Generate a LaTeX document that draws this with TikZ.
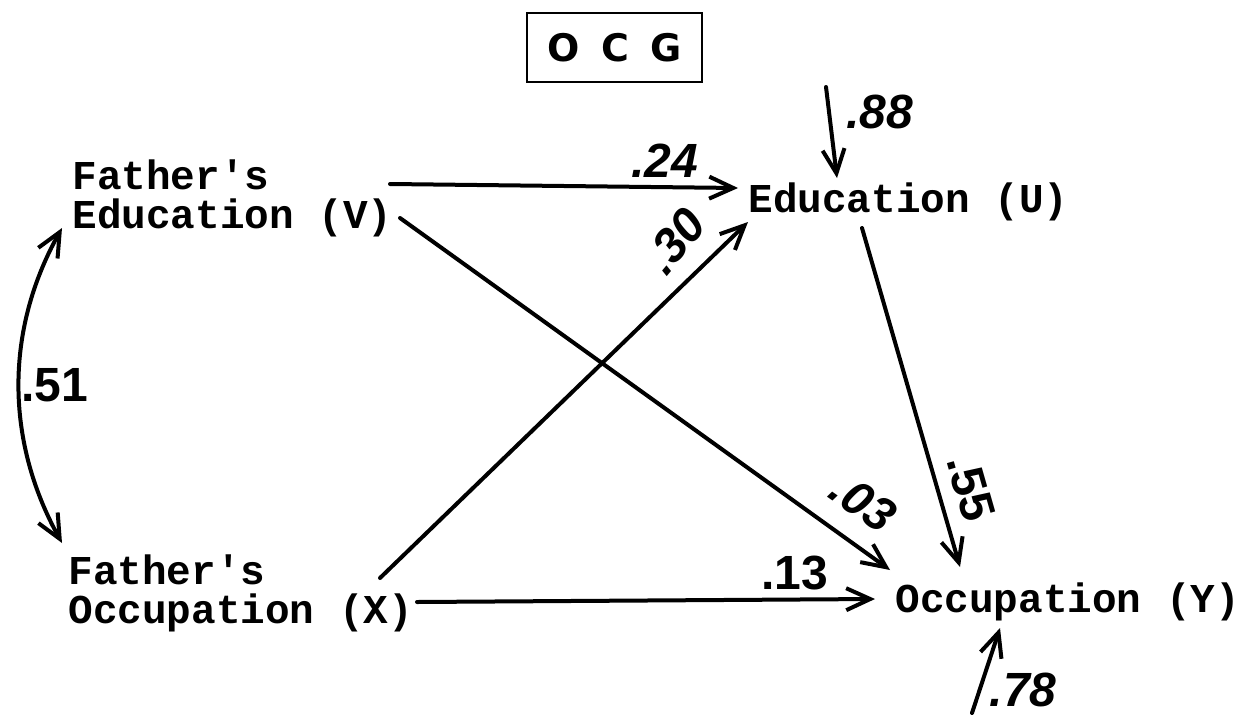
\documentclass[tikz,border=0pt]{standalone}
\usepackage{fontspec}
\setmainfont{Liberation Serif}
\newfontfamily\twfont{Liberation Mono}
\newfontfamily\handfont{Liberation Sans}
\newfontfamily\ocgfont{DejaVu Sans}
\usetikzlibrary{arrows.meta,calc}
\begin{document}
\begin{tikzpicture}[x=0.5pt,y=-0.5pt,
  var/.style={inner sep=0pt, anchor=base west, align=left,
    font=\twfont\bfseries\fontsize{20.5}{19.5}\selectfont},
  coef/.style={inner sep=0pt, font=\handfont\bfseries\itshape\fontsize{24}{24}\selectfont},
  coefup/.style={inner sep=0pt, font=\handfont\bfseries\fontsize{24}{24}\selectfont},
  arr/.style={line width=2pt, line cap=round,
    -{Straight Barb[length=12pt,width=11pt]}},
  dblarr/.style={line width=2pt,
    {Straight Barb[length=12pt,width=11pt]}-{Straight Barb[length=12pt,width=11pt]}},
]
\path[use as bounding box] (0,0) rectangle (1245,717);

% title box
\node[draw, line width=1pt, minimum width=87.5pt, minimum height=34.5pt, inner sep=0pt,
  font=\ocgfont\bfseries\fontsize{19}{19}\selectfont] (ocg) at (614.5,47.5)
  {O\hspace{0.57em}C\hspace{0.57em}G};

% variables
\node[var] (V) at (72,228) {Father's\\Education (V)};
\node[var] (X) at (68,623) {Father's\\Occupation (X)};
\node[var] (U) at (748,212) {Education (U)};
\node[var] (Y) at (895,612) {Occupation (Y)};

% residual sources
\coordinate (ru) at (826,87);
\coordinate (ry) at (972,713);

% paths
\draw[arr] ($(V.base west)+(318,-44)$) -- ($(U.base west)+(-10,-24)$);
\draw[arr] ($(V.base west)+(328,-10)$) -- ($(Y.base west)+(-5,-42)$);
\draw[arr] ($(X.base west)+(312,-45)$) -- ($(U.base west)+(0,10)$);
\draw[arr] ($(X.base west)+(349,-21)$) -- ($(Y.base west)+(-20,-13)$);
\draw[arr] ($(U.base west)+(114,16)$) -- ($(Y.base west)+(65,-45)$);
\draw[arr] (ru) -- ($(U.base west)+(89,-34)$);
\draw[arr] (ry) -- ($(Y.base west)+(105,16)$);
\draw[dblarr] ($(V.base west)+(-10,0)$) .. controls (5,330) and (5,440) .. ($(X.base west)+(-6,-80)$);

% coefficients
\node[coef] (c24) at (665,161) {.24};
\node[coef, rotate=50] (c30) at (675,241) {.30};
\node[coef, rotate=-35] (c03) at (863,502) {.03};
\node[coefup] (c13) at (795,573) {.13};
\node[coefup, rotate=-74] (c55) at (971,488) {.55};
\node[coef] (c88) at (880,112) {.88};
\node[coef] (c78) at (1023,690) {.78};
\node[coefup] (c51) at (55,385) {.51};
\end{tikzpicture}
\end{document}
